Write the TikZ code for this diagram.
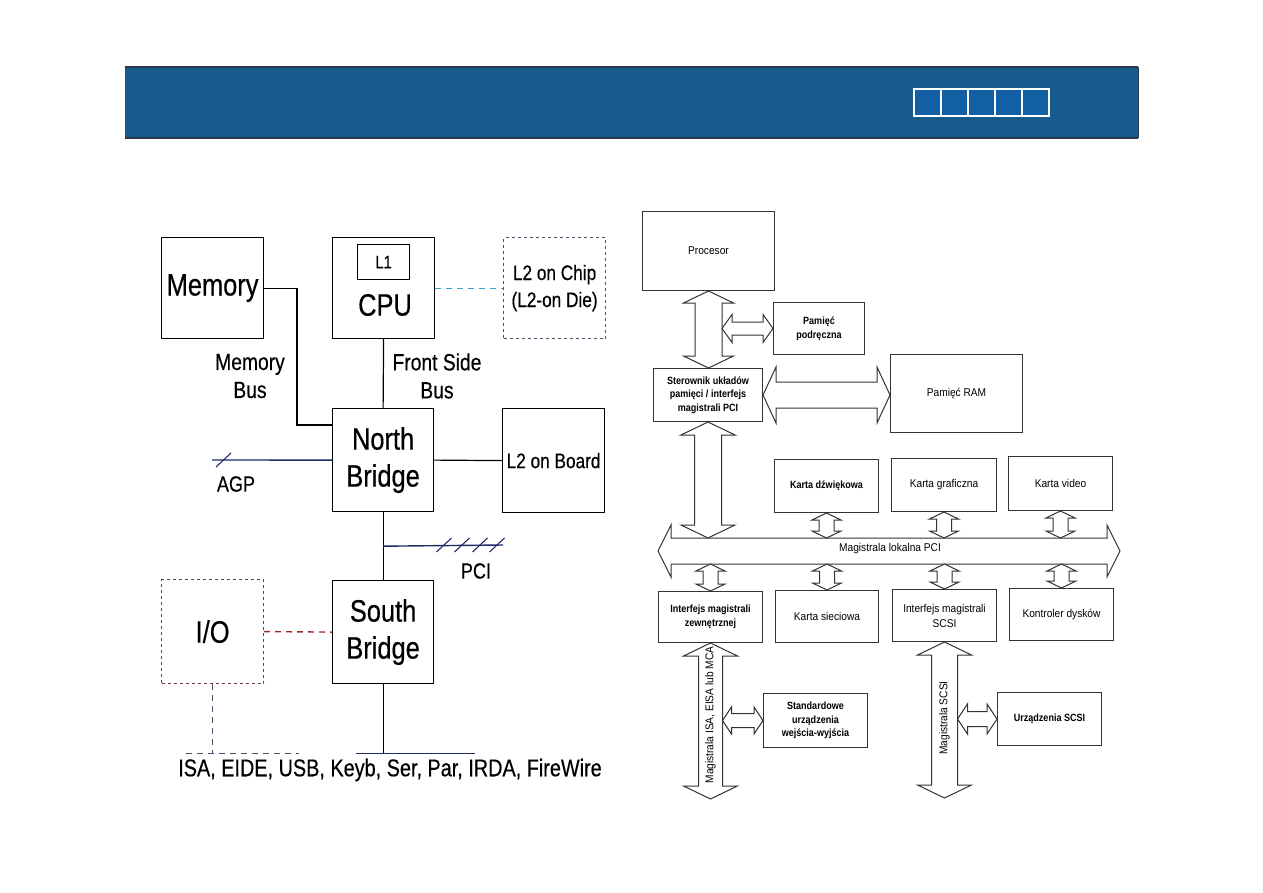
\documentclass[tikz,border=0pt]{standalone}
\usepackage{fontspec}
\setmainfont{Liberation Sans}
\newfontfamily\nar[FakeStretch=0.82,FakeBold=0.4]{Liberation Sans}
\newfontfamily\rsf[FakeStretch=0.9]{Liberation Sans}
\newfontfamily\rsfb[FakeStretch=0.86]{Liberation Sans}
\usetikzlibrary{calc}
\definecolor{band}{HTML}{165B8C}
\definecolor{sq}{HTML}{135FA3}
\definecolor{bandedge}{HTML}{2B3845}
\definecolor{cyanl}{HTML}{3A9FC8}
\definecolor{redl}{HTML}{A02828}
\definecolor{navyl}{HTML}{1E2C6A}
\definecolor{dashgray}{HTML}{4A4F6A}
\definecolor{iogray}{HTML}{6A3A3A}
\definecolor{rline}{HTML}{333333}
\newcommand\vfat[5]{\draw[fat] let \p1=#1, \p2=#2 in
  (\x1,\y1) -- (\x1+#4,\y1-#5) -- (\x1+#3,\y1-#5) -- (\x1+#3,\y2+#5) -- (\x1+#4,\y2+#5) -- (\x1,\y2)
  -- (\x1-#4,\y2+#5) -- (\x1-#3,\y2+#5) -- (\x1-#3,\y1-#5) -- (\x1-#4,\y1-#5) -- cycle;}
\newcommand\hfat[5]{\draw[fat] let \p1=#1, \p2=#2 in
  (\x1,\y1) -- (\x1+#5,\y1+#4) -- (\x1+#5,\y1+#3) -- (\x2-#5,\y1+#3) -- (\x2-#5,\y1+#4) -- (\x2,\y1)
  -- (\x2-#5,\y1-#4) -- (\x2-#5,\y1-#3) -- (\x1+#5,\y1-#3) -- (\x1+#5,\y1-#4) -- cycle;}
\begin{document}
\begin{tikzpicture}[x=1pt,y=-1pt,
  lbox/.style={draw=black, line width=1.2pt, inner sep=0pt, anchor=north west, align=center},
  rbox/.style={draw=rline, line width=1pt, inner sep=0pt, anchor=north west, align=center},
  big/.style={font=\nar\fontsize{31}{37}\selectfont},
  midt/.style={font=\nar\fontsize{23.5}{28}\selectfont},
  smt/.style={font=\nar\fontsize{21}{27}\selectfont},
  rt/.style={font=\rsf\fontsize{11.3}{15}\selectfont},
  rtb/.style={font=\rsfb\bfseries\fontsize{10.5}{13.5}\selectfont},
  lline/.style={draw=black, line width=1.2pt},
  fat/.style={draw=rline, fill=white, line width=1pt, line join=miter}]
\useasboundingbox (0,0) rectangle (1263,893);
\fill[white] (0,0) rectangle (1263,893);
% header band
\fill[band] (125,67) rectangle (1138,138);
\draw[bandedge, line width=1.2pt] (125,67) -- (1138,67);
\draw[bandedge, line width=1.2pt] (125,138) -- (1138,138);
\draw[bandedge, line width=1pt] (1138,67) -- (1138,138);
\foreach \i in {0,...,4}
  {\draw[white, fill=sq, line width=1.3pt] (914+27*\i,89) rectangle ++(27,27);}

% ---------------- left diagram ----------------
\node[lbox, minimum width=102pt, minimum height=101pt, big] (mem) at (161,237) {Memory};
\node[lbox, minimum width=102pt, minimum height=101pt] (cpu) at (332,237) {};
\node[lbox, minimum width=52pt, minimum height=35pt, font=\nar\fontsize{18}{18}\selectfont] (l1) at (357,244) {L1};
\node[big] (cputxt) at (385,305) {CPU};
\node[lbox, draw=dashgray, dash pattern=on 3pt off 3pt, minimum width=102pt, minimum height=101pt, smt] (l2c) at (503,237) {L2 on Chip\\(L2-on Die)};
\node[lbox, minimum width=101pt, minimum height=103pt, big] (nb) at (332,408) {North\\Bridge};
\node[lbox, minimum width=102pt, minimum height=104pt, smt] (l2b) at (502,408) {L2 on Board};
\node[lbox, minimum width=101pt, minimum height=103pt, big] (sb) at (332,580) {South\\Bridge};
\node[lbox, draw=iogray, dash pattern=on 3pt off 3pt, minimum width=102pt, minimum height=104pt, big] (io) at (161,579) {I/O};

\node[midt, align=center] (membus) at (250,376) {Memory\\Bus};
\node[midt, align=center] (fsb) at (437,376) {Front Side\\Bus};
\node[font=\nar\fontsize{22}{22}\selectfont] (agp) at (236,484) {AGP};
\node[font=\nar\fontsize{22}{22}\selectfont] (pci) at (476,571) {PCI};
\node[font=\nar\fontsize{24.2}{24.2}\selectfont] (ports) at (390,770) {ISA, EIDE, USB, Keyb, Ser, Par, IRDA, FireWire};

\draw[cyanl, line width=1.2pt, dash pattern=on 6pt off 5pt] (cpu.east) -- (l2c.west);
\draw[lline] (mem.east) -| ($(nb.north west)+(-35,17)$) -- ($(nb.north west)+(0,17)$);
\draw[lline] (cpu.south) -- (nb.north);
\draw[lline] (nb.east) -- (l2b.west);
\coordinate (agpend) at (212,460);
\draw[navyl, line width=1.4pt] (agpend) -- (nb.west);
\draw[navyl, line width=1.1pt] ($(agpend)+(4,7)$) -- ++(15,-14);
\draw[lline] (nb.south) -- (sb.north);
\coordinate (pcij) at ($(nb.south)+(0,34)$);
\coordinate (pciend) at (503,545);
\draw[navyl, line width=1.4pt] (pcij) -- (pciend);
\foreach \sx in {444,462,480,497}
  {\draw[navyl, line width=1.1pt] (\sx-7.5,552) -- (\sx+7.5,538);}
\draw[redl, line width=1.4pt, dash pattern=on 6pt off 5pt] (io.east) -- (sb.west);
\coordinate (iobus) at ($(io.south)+(0,69)$);
\draw[dashgray, line width=1.1pt, dash pattern=on 6pt off 5pt] (io.south) -- (iobus);
\draw[dashgray, line width=1.1pt, dash pattern=on 6pt off 5pt] ($(iobus)+(-27,0)$) -- ($(iobus)+(86,0)$);
\coordinate (sbbus) at ($(sb.south)+(0,69)$);
\draw[lline] (sb.south) -- (sbbus);
\draw[navyl, line width=1.2pt] ($(sbbus)+(-27,0)$) -- ($(sbbus)+(92,0)$);

% ---------------- right diagram ----------------
\node[rbox, minimum width=132pt, minimum height=79pt, rt] (proc) at (642,211) {Procesor};
\node[rbox, minimum width=91pt, minimum height=52pt, rtb] (pod) at (773,302) {Pamięć\\podręczna};
\node[rbox, minimum width=109pt, minimum height=53pt, rtb] (ster) at (653,368) {Sterownik układów\\pamięci / interfejs\\magistrali PCI};
\node[rbox, minimum width=132pt, minimum height=78pt, rt] (ram) at (890,354) {Pamięć RAM};
\node[rbox, minimum width=104pt, minimum height=53pt, rtb] (kdz) at (774,459) {Karta dźwiękowa};
\node[rbox, minimum width=105pt, minimum height=53pt, rt] (kgr) at (891,458) {Karta graficzna};
\node[rbox, minimum width=104pt, minimum height=54pt, rt] (kvid) at (1008,456) {Karta video};
\node[rbox, minimum width=104pt, minimum height=51pt, rtb] (zew) at (658,591) {Interfejs magistrali\\zewnętrznej};
\node[rbox, minimum width=103pt, minimum height=52pt, rt] (kns) at (775,590) {Karta sieciowa};
\node[rbox, minimum width=104pt, minimum height=52pt, rt] (scsi) at (892,589) {Interfejs magistrali\\SCSI};
\node[rbox, minimum width=104pt, minimum height=52pt, rt] (kd) at (1009,588) {Kontroler dysków};
\node[rbox, minimum width=104pt, minimum height=54pt, rtb] (std) at (763,693) {Standardowe\\urządzenia\\wejścia-wyjścia};
\node[rbox, minimum width=104pt, minimum height=53pt, rtb] (urz) at (997,692) {Urządzenia SCSI};

\coordinate (busL) at (658,551);
\coordinate (busR) at (1120,551);
\coordinate (busT) at (0,538);
\coordinate (busB) at (0,564);
\hfat{(busL)}{(busR)}{13pt}{26pt}{13pt}
\node[rt] (bustxt) at (890,549) {Magistrala lokalna PCI};

\vfat{(proc.south)}{(ster.north)}{13.5pt}{25pt}{12pt}
\coordinate (pshaft) at ($(proc.south)+(13.5,0)$);
\hfat{(pshaft |- pod.west)}{(pod.west)}{6.5pt}{14pt}{10pt}
\hfat{(ster.east)}{(ram.west)}{13pt}{28pt}{13pt}
\vfat{(ster.south)}{(ster.south |- busT)}{13.5pt}{27pt}{13pt}
\foreach \nd in {kdz,kgr,kvid}
  {\vfat{(\nd.south)}{(\nd.south |- busT)}{7.5pt}{14.5pt}{7pt}}
\foreach \nd in {zew,kns,scsi,kd}
  {\vfat{(\nd.south |- busB)}{(\nd.north)}{7.5pt}{14.5pt}{7pt}}

\coordinate (isaend) at ($(zew.south)+(0,156)$);
\vfat{(zew.south)}{(isaend)}{12pt}{27pt}{13pt}
\node[rt, rotate=90] (isatxt) at ($(zew.south)+(0,72)$) {Magistrala ISA, EISA lub MCA};
\coordinate (isashaft) at ($(zew.south)+(12,0)$);
\hfat{(isashaft |- std.west)}{(std.west)}{7pt}{13.5pt}{9pt}

\coordinate (scsiend) at ($(scsi.south)+(0,156)$);
\vfat{(scsi.south)}{(scsiend)}{13pt}{27pt}{13pt}
\node[rt, rotate=90] (scsitxt) at ($(scsi.south)+(0,76)$) {Magistrala SCSI};
\coordinate (scsishaft) at ($(scsi.south)+(13,0)$);
\hfat{(scsishaft |- urz.west)}{(urz.west)}{7.5pt}{15pt}{10pt}
\end{tikzpicture}
\end{document}
